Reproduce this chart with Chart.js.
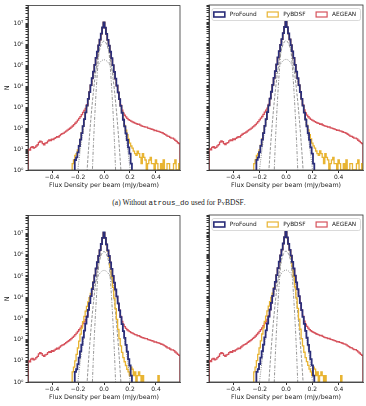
<!DOCTYPE html>
<html><head><meta charset="utf-8">
<script src="https://cdn.jsdelivr.net/npm/chart.js@4/dist/chart.umd.min.js"></script>
<style>
body{margin:0;background:#fff;width:366px;height:406px;position:relative;overflow:hidden}
canvas{position:absolute}
#cap{position:absolute;left:0;top:198px;width:358px;text-align:center;font:7.5px 'Liberation Serif';color:#222}
#cap .tt{font-family:'Liberation Mono'}
#cap .sc{font-variant:small-caps}
</style></head><body>
<canvas id="c1" width="183" height="189" style="left:0;top:0"></canvas>
<canvas id="c2" width="183" height="189" style="left:183px;top:0"></canvas>
<div id="cap">(a) Without <span class="tt">atrous_do</span> used for <span class="sc">PyBDSF</span>.</div>
<canvas id="c3" width="183" height="191" style="left:0;top:210px"></canvas>
<canvas id="c4" width="183" height="191" style="left:183px;top:210px"></canvas>
<script>
// histogram bin centres, width 0.01, from -0.58 to 0.58
const binCenters = [
  -0.58,-0.57,-0.56,-0.55,-0.54,-0.53,-0.52,-0.51,-0.50,-0.49,-0.48,-0.47,-0.46,-0.45,-0.44,-0.43,-0.42,-0.41,-0.40,-0.39,
  -0.38,-0.37,-0.36,-0.35,-0.34,-0.33,-0.32,-0.31,-0.30,-0.29,-0.28,-0.27,-0.26,-0.25,-0.24,-0.23,-0.22,-0.21,-0.20,-0.19,
  -0.18,-0.17,-0.16,-0.15,-0.14,-0.13,-0.12,-0.11,-0.10,-0.09,-0.08,-0.07,-0.06,-0.05,-0.04,-0.03,-0.02,-0.01,0,
  0.01,0.02,0.03,0.04,0.05,0.06,0.07,0.08,0.09,0.10,0.11,0.12,0.13,0.14,0.15,0.16,0.17,0.18,0.19,0.20,
  0.21,0.22,0.23,0.24,0.25,0.26,0.27,0.28,0.29,0.30,0.31,0.32,0.33,0.34,0.35,0.36,0.37,0.38,0.39,0.40,
  0.41,0.42,0.43,0.44,0.45,0.46,0.47,0.48,0.49,0.50,0.51,0.52,0.53,0.54,0.55,0.56,0.57,0.58];
const binWidth = 0.01;

const profound = [
  0,0,0,0,0,0,0,0,0,0,0,0,0,0,0,0,0,0,0,0,
  0,0,0,0,0,0,0,0,0,0,0,0,0,0,0,0,3,4,7,14,
  28,57,125,265,560,1180,2500,5250,11200,24000,50000,105000,224000,447000,890000,1660000,3200000,6300000,11200000,
  6200000,3100000,1620000,870000,440000,215000,100000,48000,23000,10800,5100,2400,1150,540,250,120,56,27,12,6,
  2,0,0,0,0,0,0,0,0,0,0,0,0,0,0,0,0,0,0,0,
  0,0,0,0,0,0,0,0,0,0,0,0,0,0,0,0,0,0];
const aegean = [
  10,9,12,13,11,12,14,16,21,24,22,18,16,19,20,24,27,25,30,28,
  32,35,39,37,44,50,55,58,64,72,80,88,98,112,126,145,170,200,240,290,
  350,440,560,700,880,1300,2550,5300,11000,23500,49000,103000,220000,440000,880000,1640000,3150000,6200000,11000000,
  6100000,3050000,1600000,860000,430000,212000,99000,47000,22500,10500,5000,2450,1250,720,520,410,340,290,255,235,
  215,200,185,172,165,150,154,138,128,122,118,110,112,100,97,92,88,84,76,78,
  72,70,66,62,60,55,50,46,41,40,36,33,33,30,26,23,20,18];
// PyBDSF without atrous_do (top row)
const pybdsfA = [
  0,0,0,0,0,0,0,0,0,0,0,0,0,0,0,0,0,0,0,0,
  0,0,0,0,0,0,0,0,0,0,0,0,0,0,2,3,5,6,9,15,
  30,60,125,260,550,1160,2450,5200,11000,23500,49000,103000,220000,440000,880000,1640000,3150000,6200000,11000000,
  6100000,3050000,1600000,860000,432000,212000,99000,47500,22800,10700,5050,2400,1150,560,270,135,80,48,30,19,
  14,11,8,6,5,8,6,4,2,6,4,3,1,2,3,4,2,2,1,3,
  2,1,0,2,1,3,1,1,2,2,1,0,1,2,3,1,1,2];
// PyBDSF with atrous_do (bottom row)
const pybdsfB = [
  0,0,0,0,0,0,0,0,0,0,0,0,0,0,0,0,0,0,0,0,
  0,0,0,0,0,0,0,0,0,0,0,0,0,0,3,5,10,20,40,85,
  180,350,700,1250,2200,3700,6000,9500,15000,27000,52000,108000,225000,445000,890000,1650000,3150000,6200000,11000000,
  5900000,2900000,1500000,750000,270000,90000,29000,9000,2900,900,300,110,50,25,14,9,6,4,3,2,
  5,4,2,3,1,2,3,2,1,2,0,0,0,0,0,0,0,0,0,0,
  0,2,0,0,0,0,0,0,0,0,0,0,0,0,0,0,0,0];

// fitted gaussians (grey)
const gaussX = [-0.22,-0.20,-0.18,-0.16,-0.14,-0.12,-0.10,-0.08,-0.06,-0.04,-0.02,0,
  0.02,0.04,0.06,0.08,0.10,0.12,0.14,0.16,0.18,0.20,0.22];
const gaussDashDot = [1e-4,1e-4,1e-4,1e-4,1e-4,1e-4,0.02,25.7,6460,337000,3610000,7940000,
  3610000,337000,6460,25.7,0.02,1e-4,1e-4,1e-4,1e-4,1e-4,1e-4];
const gaussDashed = [1e-5,1e-5,1e-5,7e-4,0.1,8.1,325,6600,69000,370000,1010000,1410000,
  1010000,370000,69000,6600,325,8.1,0.1,7e-4,1e-5,1e-5,1e-5];
const gaussDotted = [0.1,1.2,11.8,89,530,2500,9300,27000,63000,113000,162000,182000,
  162000,113000,63000,27000,9300,2500,530,89,11.8,1.2,0.1];

const seriesNames = ['ProFound', 'PyBDSF', 'AEGEAN'];
const seriesColors = ['#2b2e7a', '#e8b432', '#d6525c'];
const xTicks = [-0.4, -0.2, 0, 0.2, 0.4];
const sup = {'0':'⁰','1':'¹','2':'²','3':'³','4':'⁴','5':'⁵','6':'⁶','7':'⁷','8':'⁸'};

Chart.defaults.font.family = 'DejaVu Sans';
Chart.defaults.color = '#222';

function stepPoints(counts) {
  const h = binWidth / 2, n = counts.length;
  const v = c => c > 0 ? c : 0.05;
  let pts = [{x: binCenters[0] - h, y: 0.05}, {x: binCenters[0] - h, y: v(counts[0])}];
  counts.forEach((c, i) => pts.push({x: binCenters[i], y: v(c)}));
  pts.push({x: binCenters[n-1] + h, y: v(counts[n-1])});
  pts.push({x: binCenters[n-1] + h, y: 0.05});
  return pts;
}
function gaussPoints(vals) {
  return vals.map((y, i) => ({x: gaussX[i], y: y}));
}

// axes box + matplotlib style legend inside the axes
const framePlugin = {
  id: 'frame',
  afterDatasetsDraw(chart, args, opts) {
    const a = chart.chartArea, ctx = chart.ctx;
    if (opts.legend) {
      ctx.save();
      ctx.fillStyle = 'rgba(255,255,255,0.85)';
      ctx.strokeStyle = '#d0d0d0';
      ctx.lineWidth = 0.8;
      ctx.beginPath();
      ctx.roundRect(a.left + 3, a.top + 3.5, a.right - a.left - 5.5, 12, 2);
      ctx.fill(); ctx.stroke();
      ctx.font = '5.8px "DejaVu Sans"';
      ctx.textBaseline = 'middle';
      const widths = seriesNames.map(s => ctx.measureText(s).width);
      const boxW = 11, gap = 5, colGap = 10.5;
      let total = widths.reduce((s, w) => s + w, 0) + 3 * (boxW + gap) + 2 * colGap;
      let x = (a.left + a.right) / 2 - total / 2 - 1;
      const yc = a.top + 9.5;
      seriesNames.forEach((s, i) => {
        ctx.strokeStyle = seriesColors[i];
        ctx.lineWidth = i === 0 ? 1.6 : 1.2;
        ctx.strokeRect(x, yc - 2.5, boxW, 5);
        ctx.fillStyle = '#222';
        ctx.fillText(s, x + boxW + gap, yc + 0.3);
        x += boxW + gap + widths[i] + colGap;
      });
      ctx.restore();
    }
  },
  afterDraw(chart) {
    const a = chart.chartArea, ctx = chart.ctx;
    ctx.save();
    ctx.strokeStyle = '#333';
    ctx.lineWidth = 0.8;
    ctx.strokeRect(a.left, a.top, a.right - a.left, a.bottom - a.top);
    ctx.restore();
  }
};

function makeChart(id, pyb, left, showLegend, xH) {
  const histLine = {stepped: 'middle', pointRadius: 0, fill: false, clip: 0};
  const grey = {pointRadius: 0, fill: false, clip: 0, borderColor: '#8a8a8a', borderWidth: 0.9,
    cubicInterpolationMode: 'monotone'};
  new Chart(document.getElementById(id), {
    type: 'line',
    data: {datasets: [
      Object.assign({label: seriesNames[0], data: stepPoints(profound), borderColor: seriesColors[0], borderWidth: 1.8}, histLine),
      Object.assign({label: seriesNames[1], data: stepPoints(pyb), borderColor: seriesColors[1], borderWidth: 1.3}, histLine),
      Object.assign({label: seriesNames[2], data: stepPoints(aegean), borderColor: seriesColors[2], borderWidth: 1.3}, histLine),
      Object.assign({label: 'g1', data: gaussPoints(gaussDashDot), borderDash: [3, 1.5, 1, 1.5]}, grey),
      Object.assign({label: 'g2', data: gaussPoints(gaussDashed), borderDash: [3, 1.5]}, grey),
      Object.assign({label: 'g3', data: gaussPoints(gaussDotted), borderDash: [1, 1.2], borderColor: '#a6a6b4', borderWidth: 1.1}, grey)
    ]},
    options: {
      responsive: false, animation: false, devicePixelRatio: 1,
      layout: {padding: {left: 0, right: 3, top: 5, bottom: 0}},
      plugins: {
        tooltip: {enabled: false},
        legend: {display: false},
        frame: {legend: showLegend}
      },
      scales: {
        x: {
          type: 'linear', min: -0.585, max: 0.585,
          afterBuildTicks: s => { s.ticks = xTicks.map(v => ({value: v})); },
          afterFit: s => { s.height = xH; },
          grid: {drawOnChartArea: false, tickLength: 3, color: '#333'},
          border: {color: '#333', width: 0.8},
          ticks: {font: {size: 6}, padding: 1, maxRotation: 0,
            callback: v => v.toFixed(1).replace('-', '−')},
          title: {display: true, text: 'Flux Density per beam (mJy/beam)', font: {size: 6.3}, padding: 0}
        },
        y: {
          type: 'logarithmic', min: 1, max: 7e7,
          afterFit: s => { s.width = left ? 28 : 26; },
          grid: {drawOnChartArea: false, tickLength: 2.5, color: '#333'},
          border: {color: '#333', width: 0.8},
          ticks: {display: left, autoSkip: false, font: {size: 6}, padding: 2,
            callback: v => {
              const e = Math.log10(v);
              return Math.abs(e - Math.round(e)) < 1e-6 ? '10' + sup[String(Math.round(e))] : '';
            }},
          title: {display: left, text: 'N', font: {size: 6.5}, padding: {top: 3, bottom: 0}}
        }
      }
    },
    plugins: [framePlugin]
  });
}

makeChart('c1', pybdsfA, true, false, 19);
makeChart('c2', pybdsfA, false, true, 19);
makeChart('c3', pybdsfB, true, false, 19);
makeChart('c4', pybdsfB, false, true, 19);
</script>
</body></html>
